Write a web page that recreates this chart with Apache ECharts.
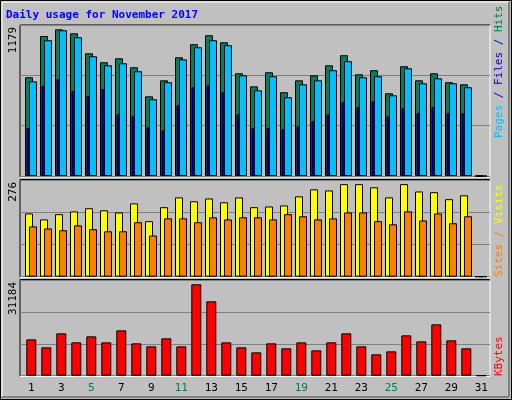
<!DOCTYPE html>
<html><head><meta charset="utf-8">
<script src="https://cdn.jsdelivr.net/npm/echarts@6/dist/echarts.min.js"></script>
<style>html,body{margin:0;padding:0;background:#c0c0c0}#c{width:512px;height:400px}</style>
</head><body><div id="c"></div>
<script>
const days = ['1','2','3','4','5','6','7','8','9','10','11','12','13','14','15','16','17','18','19','20','21','22','23','24','25','26','27','28','29','30','31'];
const weekend = ['4','5','11','12','18','19','25','26'];
const hits  = [771,1093,1145,1114,958,888,919,849,622,747,927,1029,1099,1044,802,700,810,654,747,786,864,943,794,826,646,857,747,802,732,716,0];
const files = [739,1060,1138,1083,935,864,880,818,599,732,911,1005,1060,1021,786,669,779,615,716,747,826,896,771,779,630,841,724,763,724,693,0];
const pages = [372,703,755,664,622,679,482,466,380,357,552,693,708,654,482,372,372,365,388,427,482,576,537,583,466,529,490,537,490,490,0];
const visits = [181,164,179,187,196,190,184,210,159,199,227,216,224,213,227,199,201,204,230,250,247,265,265,256,227,265,244,242,222,233,0];
const sites  = [144,138,133,147,136,130,130,156,118,167,167,156,170,164,170,170,164,179,173,164,167,184,184,159,150,187,161,181,153,173,0];
const kbytes = [11881,9265,13843,10900,12862,10900,14824,10573,9592,12208,9592,29866,24307,10900,9265,7630,10573,8938,10900,8284,10900,13843,9592,6976,7957,13189,11227,16786,11554,8938,0];
const maxHits = 1179, maxVisits = 276, maxK = 31184;

const panels = [{top:25,h:151,max:maxHits},{top:180.3,h:96.4,max:maxVisits},{top:280.3,h:95.4,max:maxK}];
const grids=[], xAxes=[], yAxes=[], series=[];
function addGrid(p, left, showFrame, labels){
  const i = grids.length;
  grids.push({left:left, width: showFrame?470:465, top:p.top, height:p.h, show:false});
  xAxes.push({type:'category', data:days, gridIndex:i, show:!!labels,
    axisLine:{show:false}, axisTick:{show:false},
    axisLabel:{show:!!labels, margin:8, fontFamily:'DejaVu Sans Mono', fontSize:11,
      color:(v)=>weekend.includes(v)?'#008040':'#000000'}});
  yAxes.push({type:'value', gridIndex:i, min:0, max:p.max, interval:p.max/3, show:showFrame,
    axisLabel:{show:false}, axisLine:{show:false}, axisTick:{show:false},
    splitLine:{show:showFrame, lineStyle:{color:'#808080', width:1}}});
  return i;
}
function bar(gi, data, color, w){
  series.push({type:'bar', xAxisIndex:gi, yAxisIndex:gi, data:data, barWidth:w, silent:true,
    itemStyle:{color:color, borderColor:'#000', borderWidth:1}, animation:false});
}
// background grids with split lines
panels.forEach(p=>addGrid(p,20,true,false));
// top panel
bar(addGrid(panels[0],21.5,false,false), hits, '#008060', 8);
bar(addGrid(panels[0],25.5,false,false), files, '#00c0ff', 8);
bar(addGrid(panels[0],20.5,false,false), pages, '#0000ff', 3);
// middle
bar(addGrid(panels[1],21.5,false,false), visits, '#ffff00', 8);
bar(addGrid(panels[1],25.5,false,false), sites, '#ff8000', 8);
// bottom
bar(addGrid(panels[2],23.8,false,true), kbytes, '#ff0000', 10);
// x labels axis position: shift back to slot centers
xAxes[xAxes.length-1].axisLabel.margin = 7;

const mono = 'DejaVu Sans Mono';
function frame(y1,y2){
  return [
    {type:'line', shape:{x1:20,y1:y1,x2:490,y2:y1}, style:{stroke:'#000',lineWidth:1}},
    {type:'line', shape:{x1:20,y1:y1,x2:20,y2:y2}, style:{stroke:'#000',lineWidth:1}},
    {type:'line', shape:{x1:20,y1:y2,x2:490,y2:y2}, style:{stroke:'#fff',lineWidth:1}},
    {type:'line', shape:{x1:490,y1:y1,x2:490,y2:y2}, style:{stroke:'#fff',lineWidth:1}}
  ];
}
function vlabel(x,y,text,align){
  return {type:'text', x:x, y:y, rotation:Math.PI/2,
    style:{text:text, font:'11px '+mono, fill:'#000', align:align, verticalAlign:'middle'}};
}
function rlabel(x,y,parts){
  return {type:'text', x:x, y:y, rotation:Math.PI/2,
    style:{text:parts.map(p=>'{'+p[1]+'|'+p[0]+'}').join(''), font:'11px '+mono, align:'left', verticalAlign:'middle',
      rich:{a:{fill:'#00c0ff',font:'11px '+mono},b:{fill:'#0000c0',font:'11px '+mono},c:{fill:'#008040',font:'11px '+mono},
            d:{fill:'#ff8000',font:'11px '+mono},e:{fill:'#ffff00',font:'11px '+mono},f:{fill:'#ff0000',font:'11px '+mono}}}};
}
const graphic = [
  {type:'rect', shape:{x:0.5,y:0.5,width:511,height:399}, style:{fill:'none',stroke:'#000'}},
  {type:'line', shape:{x1:2,y1:2,x2:509,y2:2}, style:{stroke:'#fff'}},
  {type:'line', shape:{x1:2,y1:2,x2:2,y2:396}, style:{stroke:'#fff'}},
  {type:'line', shape:{x1:2,y1:397,x2:509,y2:397}, style:{stroke:'#808080',lineWidth:2}},
  {type:'line', shape:{x1:509,y1:2,x2:509,y2:397}, style:{stroke:'#808080',lineWidth:2}},
  {type:'text', x:6, y:15, style:{text:'Daily usage for November 2017', font:'bold 11px '+mono, fill:'#0000ff', verticalAlign:'middle'}},
  ...frame(25,177), ...frame(179.5,277.5), ...frame(279.5,376.5),
  vlabel(13,27,String(maxHits),'right'),
  vlabel(13,182,String(maxVisits),'right'),
  vlabel(13,282,String(maxK),'right'),
  rlabel(499,138,[['Pages','a'],[' / ','b'],['Files','b'],[' / ','b'],['Hits','c']]),
  rlabel(499,277,[['Sites','d'],[' / ','d'],['Visits','e']]),
  rlabel(499,376,[['KBytes','f']])
];
const chart = echarts.init(document.getElementById('c'), null, {renderer:'canvas'});
chart.setOption({backgroundColor:'#c0c0c0', animation:false, grid:grids, xAxis:xAxes, yAxis:yAxes, series:series, graphic:graphic});
</script></body></html>
